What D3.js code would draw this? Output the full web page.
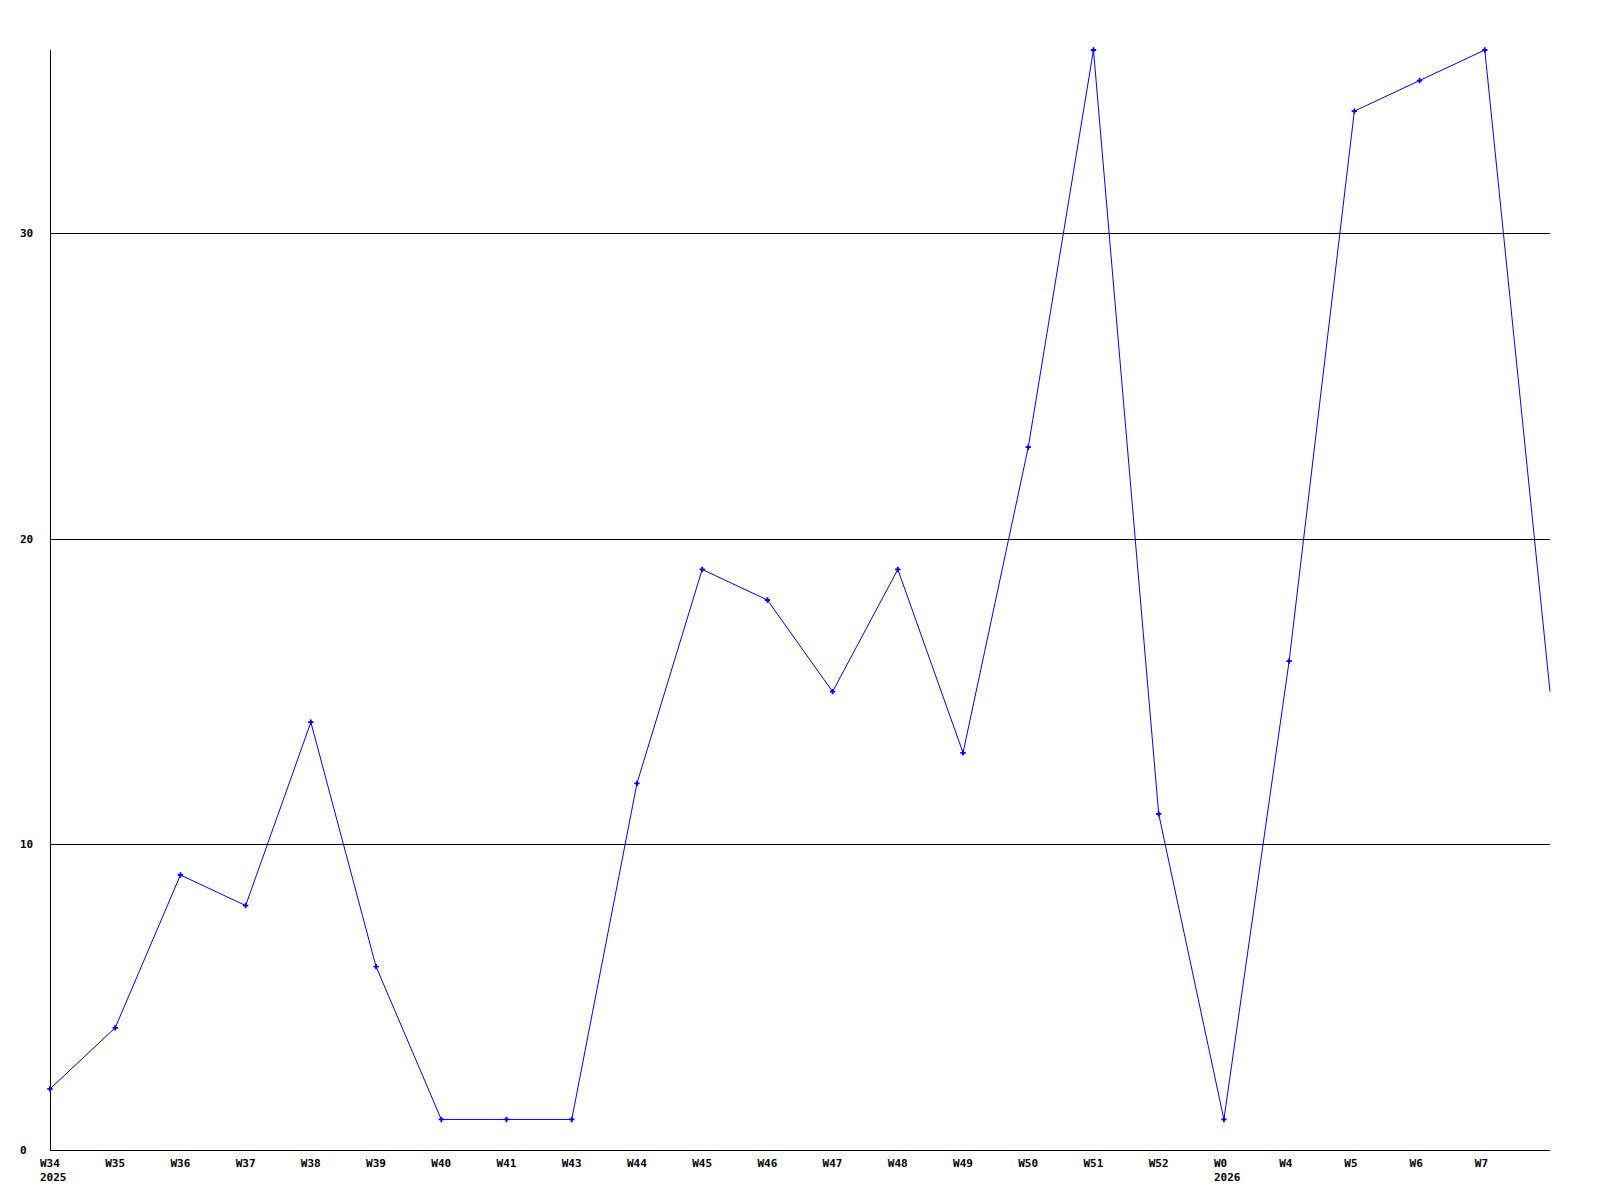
<!DOCTYPE html>
<html>
<head>
<meta charset="utf-8">
<script src="https://cdn.jsdelivr.net/npm/d3@7"></script>
<style>
  body { margin: 0; background: #fff; }
  text { font-family: "DejaVu Sans Mono", monospace; font-weight: bold; font-size: 11px; fill: #000; }
</style>
</head>
<body>
<script>
// weekly counts, last point has no label
const weeks = ["W34", "W35", "W36", "W37", "W38", "W39", "W40", "W41", "W43", "W44", "W45", "W46",
  "W47", "W48", "W49", "W50", "W51", "W52", "W0", "W4", "W5", "W6", "W7", ""];
const values = [2, 4, 9, 8, 14, 6, 1, 1, 1, 12, 19, 18, 15, 19, 13, 23, 36, 11, 1, 16, 34, 35, 36, 15];
const years = [{ week: "W34", label: "2025" }, { week: "W0", label: "2026" }];
const yTicks = [0, 10, 20, 30];

const svgWidth = 1600, svgHeight = 1200;
const margin = { top: 50, right: 50, bottom: 50, left: 50 },
  width = svgWidth - margin.left - margin.right,
  height = svgHeight - margin.top - margin.bottom;

const x = d3.scaleLinear()
  .domain([0, values.length - 1])
  .range([0, width]);

const y = d3.scaleLinear()
  .domain([0, 36])
  .range([height, 0]);

const svg = d3.select("body").append("svg")
  .attr("width", svgWidth)
  .attr("height", svgHeight)
  .append("g")
  .attr("transform", "translate(" + margin.left + "," + margin.top + ")");

// grid lines
svg.selectAll(".grid")
  .data(yTicks.filter(d => d > 0))
  .enter().append("line")
  .attr("x1", 0).attr("x2", width)
  .attr("y1", d => Math.round(y(d)) + 0.5)
  .attr("y2", d => Math.round(y(d)) + 0.5)
  .attr("stroke", "#000")
  .attr("stroke-width", 1);

// y labels
svg.selectAll(".ylabel")
  .data(yTicks)
  .enter().append("text")
  .attr("x", -30)
  .attr("y", d => y(d))
  .attr("dy", "0.35em")
  .text(d => d);

// axes lines
svg.append("line")
  .attr("x1", 0.5).attr("x2", 0.5)
  .attr("y1", 0).attr("y2", height)
  .attr("stroke", "#000");
svg.append("line")
  .attr("x1", 0).attr("x2", width)
  .attr("y1", height + 0.5).attr("y2", height + 0.5)
  .attr("stroke", "#000");

// x labels, left aligned a bit before the point
svg.selectAll(".xlabel")
  .data(weeks.map((w, i) => ({ w, i })).filter(d => d.w !== ""))
  .enter().append("text")
  .attr("x", d => x(d.i) - 10)
  .attr("y", height + 17)
  .text(d => d.w);

svg.selectAll(".year")
  .data(years)
  .enter().append("text")
  .attr("x", d => x(weeks.indexOf(d.week)) - 10)
  .attr("y", height + 31)
  .text(d => d.label);

// the line
const valueline = d3.line()
  .x((d, i) => x(i))
  .y(d => y(d));

svg.append("path")
  .datum(values)
  .attr("fill", "none")
  .attr("stroke", "#0000ff")
  .attr("stroke-width", 1)
  .attr("d", valueline);

// point markers
svg.selectAll(".pt")
  .data(values.slice(0, values.length - 1))
  .enter().append("path")
  .attr("transform", (d, i) => "translate(" + x(i) + "," + y(d) + ")")
  .attr("d", d3.symbol(d3.symbolCross).size(16))
  .attr("fill", "#0000ff");
</script>
</body>
</html>
